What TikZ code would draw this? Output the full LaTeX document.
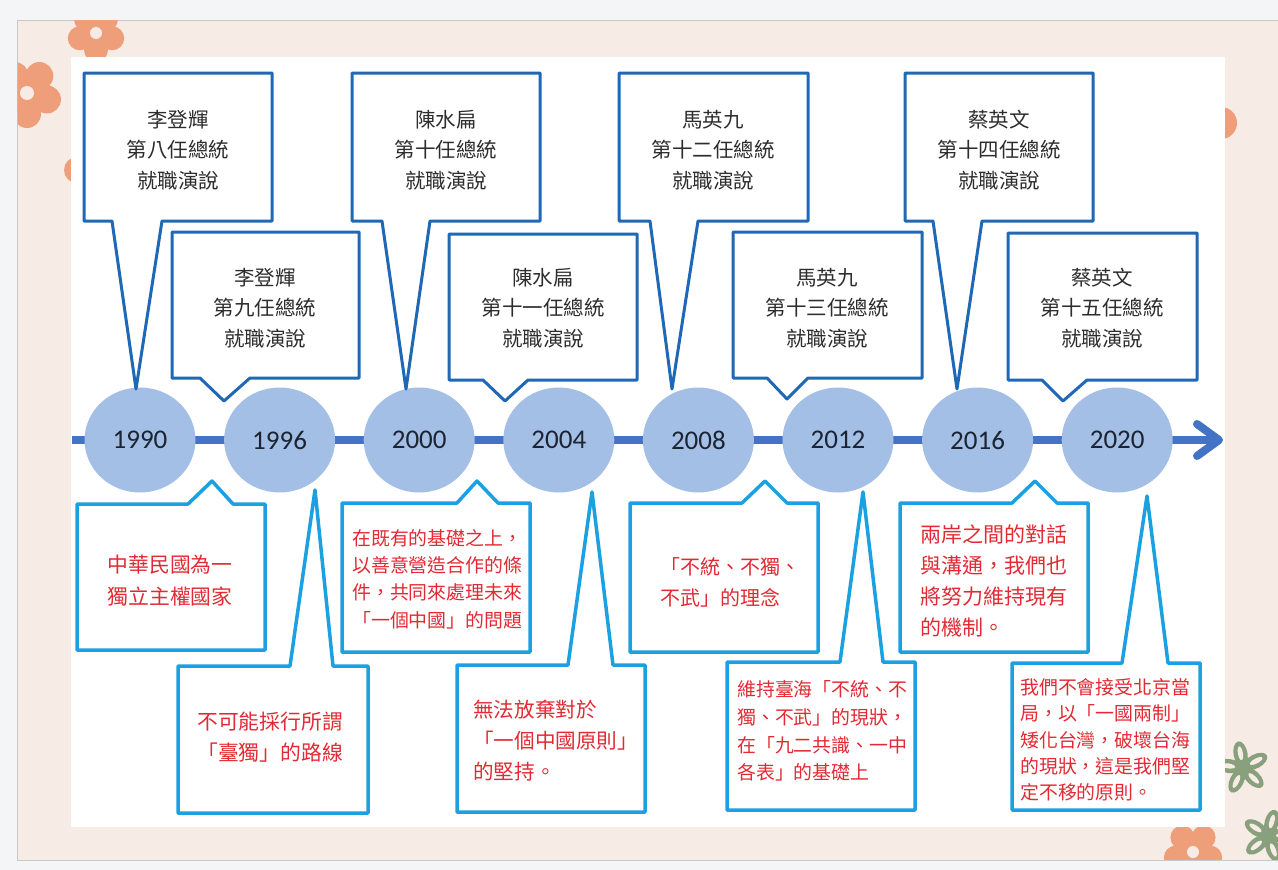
\documentclass[tikz,border=0pt]{standalone}
\usepackage{fontspec}
\newfontfamily\cjk{Noto Sans CJK TC}
\newfontfamily\yearfont{Carlito}
\usetikzlibrary{shapes.geometric}

\definecolor{topblue}{RGB}{31,104,181}
\definecolor{cyanedge}{RGB}{27,161,226}
\definecolor{redtext}{RGB}{226,42,52}
\definecolor{toptxt}{RGB}{45,45,45}
\definecolor{circfill}{RGB}{164,191,229}
\definecolor{yeartext}{RGB}{28,36,50}
\definecolor{linecol}{RGB}{68,114,196}
\definecolor{pinkbg}{RGB}{246,235,229}
\definecolor{outerbg}{RGB}{244,245,247}
\definecolor{framegray}{RGB}{200,200,200}
\definecolor{salmon}{RGB}{239,158,122}
\definecolor{sage}{RGB}{137,160,124}

% callout above the axis: box with a pointer going down
% args: left right top bottom pointer-left pointer-right tip-x tip-y
\newcommand{\topcallout}[8]{%
  \draw[topedge] (#1,#3) -- (#2,#3) -- (#2,#4) -- (#6,#4) -- (#7,#8)
    -- (#5,#4) -- (#1,#4) -- cycle;}
% callout below the axis: box with a pointer going up
\newcommand{\botcallout}[8]{%
  \draw[botedge] (#1,#3) -- (#5,#3) -- (#7,#8) -- (#6,#3) -- (#2,#3)
    -- (#2,#4) -- (#1,#4) -- cycle;}
% five-petal flower: x y petal-distance petal-radius hole-radius colour
\newcommand{\petalflower}[6]{%
  \begin{scope}[shift={(#1,#2)}]
    \foreach \a in {18,90,162,234,306}
      \fill[#6] (\a:#3) circle (#4);
    \fill[#6] (0,0) circle (#3);
    \fill[pinkbg] (0,0) circle (#5);
  \end{scope}}
% outlined leafy flower
\newcommand{\leafflower}[3]{%
  \begin{scope}[shift={(#1,#2)},rotate=#3]
    \foreach \a in {0,72,144,216,288}
      \fill[sage,rotate=\a] (0,-14) ellipse (7 and 13);
    \fill[sage] (0,0) circle (7);
    \foreach \a in {0,72,144,216,288}
      \fill[pinkbg,rotate=\a] (0,-15) ellipse (2.5 and 7);
  \end{scope}}

\begin{document}
\begin{tikzpicture}[x=1pt,y=-1pt,
  topedge/.style={draw=topblue,line width=3,fill=white,line join=round},
  botedge/.style={draw=cyanedge,line width=3.5,fill=white,line join=round},
  yearnode/.style={ellipse,fill=circfill,minimum width=111,minimum height=105,
    inner sep=0,text=yeartext,font=\yearfont\fontsize{27}{30}\selectfont},
  toptext/.style={align=center,inner sep=0,text=toptxt,
    font=\cjk\fontsize{20.5}{30.5}\selectfont},
  bottext/.style={inner sep=0,text=redtext,anchor=west},
  axis/.style={draw=linecol,line width=8},
]
\useasboundingbox (0,0) rectangle (1278,870);

% page background, frame and decorations
\fill[outerbg] (0,0) rectangle (1278,870);
\fill[pinkbg] (17,20) rectangle (1278,860);
\draw[framegray,line width=1] (1278,20) -- (17,20) -- (17,860) -- (1278,860);
\begin{scope}
  \clip (17.5,20.5) rectangle (1278,859.5);
  \petalflower{96}{33}{17}{12}{6}{salmon}
  \petalflower{27}{93}{21}{14}{7}{salmon}
  \fill[salmon] (77,170) circle (13);
  \fill[salmon] (1221,123) circle (16);
  \petalflower{1193}{852}{18}{12}{6}{salmon}
  \leafflower{1243}{768}{10}
  \leafflower{1268}{836}{-15}
\end{scope}
\fill[white] (71,57) rectangle (1225,827);

% time axis
\coordinate (axstart) at (72,440);
\coordinate (axend) at (1214,440);
\coordinate (tipa) at (1197,424);
\coordinate (tipc) at (1197,456);
\coordinate (tipb) at (1219,440);
\draw[axis] (axstart) -- (axend);
\draw[axis,line cap=round,line join=round] (tipa) -- (tipb) -- (tipc);

% year markers
\node[yearnode] (y1990) at (140,440) {1990};
\node[yearnode] (y1996) at (279.6,440) {1996};
\node[yearnode] (y2000) at (419.2,440) {2000};
\node[yearnode] (y2004) at (558.8,440) {2004};
\node[yearnode] (y2008) at (698.4,440) {2008};
\node[yearnode] (y2012) at (838,440) {2012};
\node[yearnode] (y2016) at (977.6,440) {2016};
\node[yearnode] (y2020) at (1117.2,440) {2020};

% inaugural speech callouts
\topcallout{84}{272}{73}{221}{112}{162}{136}{389}
\topcallout{352}{540}{73}{221}{382}{430}{406}{389}
\topcallout{619}{808}{73}{221}{650}{698}{672}{389}
\topcallout{905}{1093}{73}{221}{933}{982}{957}{389}
\topcallout{172}{359}{232}{378}{200}{250}{224}{401}
\topcallout{449}{637}{234}{380}{483}{528}{505}{401}
\topcallout{733}{922}{232}{378}{767}{808}{787}{399}
\topcallout{1008}{1197}{233}{380}{1042}{1087}{1063}{401}

\node[toptext] (s1990) at (178,150) {李登輝\\第八任總統\\就職演說};
\node[toptext] (s2000) at (446,150) {陳水扁\\第十任總統\\就職演說};
\node[toptext] (s2008) at (713,150) {馬英九\\第十二任總統\\就職演說};
\node[toptext] (s2016) at (999,150) {蔡英文\\第十四任總統\\就職演說};
\node[toptext] (s1996) at (265,308) {李登輝\\第九任總統\\就職演說};
\node[toptext] (s2004) at (543,308) {陳水扁\\第十一任總統\\就職演說};
\node[toptext] (s2012) at (827,308) {馬英九\\第十三任總統\\就職演說};
\node[toptext] (s2020) at (1102,308) {蔡英文\\第十五任總統\\就職演說};

% quotation callouts
\botcallout{77}{265}{504}{650}{188}{233}{212}{481}
\botcallout{178}{368}{666}{813}{290}{333}{315}{490}
\botcallout{342}{530}{503}{652}{457}{498}{477}{481}
\botcallout{457}{645}{665}{812}{568}{613}{592}{492}
\botcallout{630}{818}{503}{652}{742}{787}{765}{481}
\botcallout{727}{915}{662}{810}{840}{883}{863}{492}
\botcallout{900}{1088}{503}{652}{1012}{1057}{1035}{481}
\botcallout{1012}{1200}{663}{810}{1122}{1168}{1147}{496}

\node[bottext,align=center,anchor=center,font=\cjk\fontsize{20.8}{32}\selectfont]
  (q1990) at (170,581) {中華民國為一\\獨立主權國家};
\node[bottext,align=left,font=\cjk\fontsize{20.8}{31}\selectfont]
  (q1996) at (197,737) {不可能採行所謂\\「臺獨」的路線};
\node[bottext,align=left,font=\cjk\fontsize{18.9}{27.3}\selectfont]
  (q2000) at (352,579) {在既有的基礎之上，\\以善意營造合作的條\\件，共同來處理未來\\「一個中國」的問題};
\node[bottext,align=left,font=\cjk\fontsize{20.6}{31}\selectfont]
  (q2004) at (473,741) {無法放棄對於\\「一個中國原則」\\的堅持。};
\node[bottext,align=left,font=\cjk\fontsize{20}{31}\selectfont]
  (q2008) at (660,582) {「不統、不獨、\\不武」的理念};
\node[bottext,align=left,font=\cjk\fontsize{18.9}{27.7}\selectfont]
  (q2012) at (737,731) {維持臺海「不統、不\\獨、不武」的現狀，\\在「九二共識、一中\\各表」的基礎上};
\node[bottext,align=left,font=\cjk\fontsize{21}{30.7}\selectfont]
  (q2016) at (920,581) {兩岸之間的對話\\與溝通，我們也\\將努力維持現有\\的機制。};
\node[bottext,align=left,font=\cjk\fontsize{18.9}{26.3}\selectfont]
  (q2020) at (1020,740) {我們不會接受北京當\\局，以「一國兩制」\\矮化台灣，破壞台海\\的現狀，這是我們堅\\定不移的原則。};
\end{tikzpicture}
\end{document}
